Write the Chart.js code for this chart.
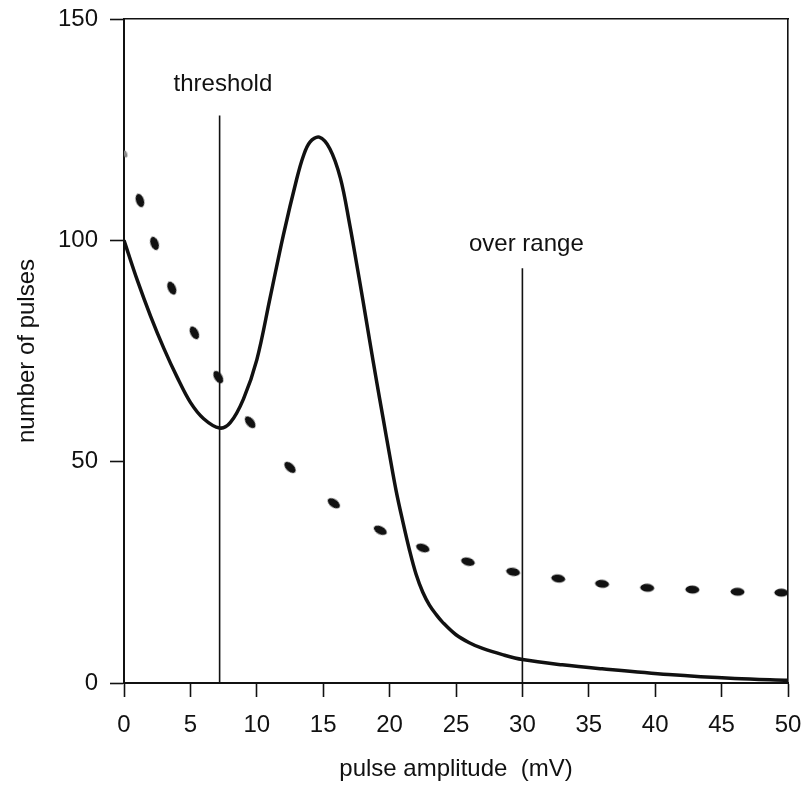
<!DOCTYPE html>
<html>
<head>
<meta charset="utf-8">
<title>pulse amplitude</title>
<script src="https://cdn.jsdelivr.net/npm/chart.js@4.4.0/dist/chart.umd.min.js"></script>
<style>
  body { margin: 0; background: #fff; }
  #wrap { width: 807px; height: 787px; }
</style>
</head>
<body>
<div id="wrap"><canvas id="myChart"></canvas></div>
<script>
// solid curve (pulse height spectrum)
const solidX = [0, 1, 2, 3, 4, 5, 6, 7.2, 8, 9, 10, 11, 12, 13, 13.5, 14, 14.7, 15.5, 16.3, 17, 17.5, 18, 18.5, 19, 19.5, 20, 20.5, 21, 21.5, 22, 22.5, 23, 23.5, 24, 25, 26, 27, 28.5, 30, 33, 36, 41, 46, 50];
const solidY = [100, 91, 82.9, 75.6, 69.1, 63.4, 59.7, 57.6, 58.8, 64.2, 73, 87, 101.2, 113.8, 119, 122.2, 123.3, 120.7, 114, 103.5, 95, 86.3, 77.3, 68.5, 60, 51.5, 43.3, 36.4, 30, 24.5, 20.5, 17.6, 15.5, 13.7, 10.9, 9.1, 7.8, 6.4, 5.3, 4.1, 3.2, 1.9, 1.0, 0.6];

// dotted curve (noise)
const dotX = [0.1, 1.2, 2.3, 3.6, 5.3, 7.1, 9.5, 12.5, 15.8, 19.3, 22.5, 25.9, 29.3, 32.7, 36.0, 39.4, 42.8, 46.2, 49.5];
const dotY = [119.5, 109, 99.3, 89.2, 79.1, 69.1, 58.9, 48.7, 40.6, 34.5, 30.5, 27.4, 25.1, 23.6, 22.4, 21.5, 21.1, 20.6, 20.4];

// marker lines: x position and top value
const thresholdLine = { x: [7.2, 7.2], y: [0, 128.2] };
const overRangeLine = { x: [30, 30], y: [0, 93.7] };

// labels for the markers
const markerLabels = ['threshold', 'over range'];
const markerLabelX = [7.45, 30.3];
const markerLabelY = [133.8, 97.5];

const xTicks = [0, 5, 10, 15, 20, 25, 30, 35, 40, 45, 50];
const yTicks = [0, 50, 100, 150];

const FONT = 'Liberation Sans, Arial, Helvetica, sans-serif';
const INK = '#111';

const pts = (xs, ys) => xs.map((x, i) => ({ x, y: ys[i] }));

// blob used for the dotted series
const makeBlob = (w, h, color) => {
  const c = document.createElement('canvas');
  c.width = w; c.height = h;
  const g = c.getContext('2d');
  g.fillStyle = color;
  g.beginPath();
  g.ellipse(w / 2, h / 2, w / 2 - 0.5, h / 2 - 0.5, 0, 0, Math.PI * 2);
  g.fill();
  return c;
};
const blob = makeBlob(15, 9, '#111');
const faintBlob = makeBlob(8, 5, '#888');

const markerText = {
  id: 'markerText',
  afterDatasetsDraw(chart) {
    const { ctx, scales } = chart;
    ctx.save();
    ctx.font = '24px ' + FONT;
    ctx.fillStyle = INK;
    ctx.textAlign = 'center';
    ctx.textBaseline = 'alphabetic';
    markerLabels.forEach((t, i) => {
      ctx.fillText(t, scales.x.getPixelForValue(markerLabelX[i]), scales.y.getPixelForValue(markerLabelY[i]));
    });
    ctx.restore();
  }
};

new Chart(document.getElementById('myChart'), {
  type: 'line',
  data: {
    datasets: [
      {
        label: 'spectrum',
        data: pts(solidX, solidY),
        borderColor: INK,
        borderWidth: 3.5,
        pointRadius: 0,
        tension: 0.35,
        fill: false
      },
      {
        label: 'noise',
        data: pts(dotX, dotY),
        showLine: false,
        pointRadius: 6,
        pointStyle: c => (c.dataIndex === 0 ? faintBlob : blob),
        pointRotation: c => {
          const i = c.dataIndex;
          if (i === undefined) return 0;
          const xs = c.chart.scales.x, ys = c.chart.scales.y;
          const a = Math.max(0, i - 1), b = Math.min(dotX.length - 1, i + 1);
          const dx = xs.getPixelForValue(dotX[b]) - xs.getPixelForValue(dotX[a]);
          const dy = ys.getPixelForValue(dotY[b]) - ys.getPixelForValue(dotY[a]);
          return Math.atan2(dy, dx) * 180 / Math.PI;
        }
      },
      {
        label: 'threshold',
        data: pts(thresholdLine.x, thresholdLine.y),
        borderColor: INK,
        borderWidth: 1.6,
        pointRadius: 0
      },
      {
        label: 'over range',
        data: pts(overRangeLine.x, overRangeLine.y),
        borderColor: INK,
        borderWidth: 1.6,
        pointRadius: 0
      }
    ]
  },
  options: {
    responsive: true,
    maintainAspectRatio: false,
    animation: false,
    layout: { padding: { top: 19, right: 19, left: 0, bottom: 0 } },
    plugins: { legend: { display: false }, tooltip: { enabled: false } },
    scales: {
      x: {
        type: 'linear',
        position: 'bottom',
        min: 0,
        max: 50,
        afterBuildTicks: s => { s.ticks = xTicks.map(v => ({ value: v })); },
        afterFit: s => { s.height = 104; s.paddingLeft = 0; s.paddingRight = 0; },
        ticks: { color: INK, font: { size: 24, family: FONT }, padding: 14, maxRotation: 0, autoSkip: false },
        grid: { drawOnChartArea: false, drawTicks: true, tickLength: 14, tickWidth: 1.6, tickColor: INK },
        border: { display: true, color: INK, width: 2 },
        title: { display: true, text: 'pulse amplitude  (mV)', color: INK, font: { size: 24, family: FONT }, padding: { top: 3, bottom: 3 } }
      },
      y: {
        type: 'linear',
        position: 'left',
        min: 0,
        max: 150,
        afterBuildTicks: s => { s.ticks = yTicks.map(v => ({ value: v })); },
        afterFit: s => { s.width = 124; s.paddingTop = 0; s.paddingBottom = 0; },
        ticks: { color: INK, font: { size: 24, family: FONT }, padding: 12 },
        grid: { drawOnChartArea: false, drawTicks: true, tickLength: 14, tickWidth: 1.6, tickColor: INK },
        border: { display: true, color: INK, width: 2 },
        title: { display: true, text: 'number of pulses', color: INK, font: { size: 24, family: FONT }, padding: { top: 13, bottom: 13 } }
      },
      xTop: {
        type: 'linear',
        position: 'top',
        min: 0,
        max: 50,
        afterFit: s => { s.height = 0; s.paddingLeft = 0; s.paddingRight = 0; },
        ticks: { display: false },
        grid: { drawOnChartArea: false, drawTicks: false },
        border: { display: true, color: INK, width: 1.6 }
      },
      yRight: {
        type: 'linear',
        position: 'right',
        min: 0,
        max: 150,
        afterFit: s => { s.width = 0; s.paddingTop = 0; s.paddingBottom = 0; },
        ticks: { display: false },
        grid: { drawOnChartArea: false, drawTicks: false },
        border: { display: true, color: INK, width: 1.6 }
      }
    }
  },
  plugins: [markerText]
});
</script>
</body>
</html>
